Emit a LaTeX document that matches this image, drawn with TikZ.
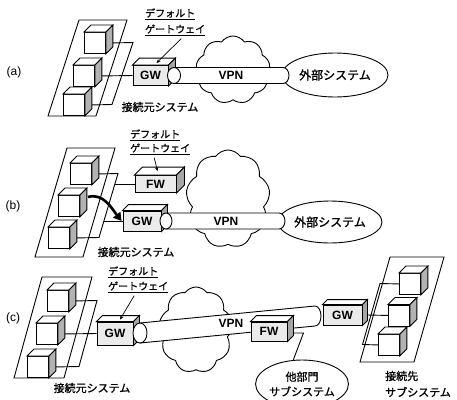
\documentclass[tikz,border=0pt]{standalone}
\usepackage{fontspec}
\setmainfont{Liberation Sans}
\newfontfamily\jp[FakeBold=1.2]{Noto Sans CJK JP}
\usetikzlibrary{shapes.geometric,shapes.symbols,arrows.meta}

\tikzset{
  plate/.style={draw, line width=0.9pt},
  wire/.style={draw, line width=0.9pt},
  cubefront/.style={draw, fill=white, minimum width=21, minimum height=21, inner sep=0, line width=0.9pt},
  cubetop/.style={draw, fill=white, line width=0.9pt},
  cubeside/.style={draw, fill=black!30, line width=0.9pt},
  gwbox/.style={draw, fill=black!8, inner sep=0, line width=0.9pt, font=\bfseries\fontsize{12}{12}\selectfont},
  boxside/.style={draw, fill=black!35, line width=0.9pt},
  pipe/.style={draw, fill=white, line width=0.9pt},
  net/.style={cloud, draw, fill=white, cloud puffs=9, cloud puff arc=110, cloud ignores aspect, inner sep=0, line width=0.9pt},
  site/.style={ellipse, draw, fill=white, inner sep=0, line width=0.9pt, font=\jp\fontsize{12}{14}\selectfont},
  jplabel/.style={inner sep=0, font=\jp\fontsize{11}{13}\selectfont},
  gwlabel/.style={inner sep=0, anchor=west, font=\jp\fontsize{10}{12}\selectfont},
  vpntext/.style={inner sep=0, font=\bfseries\fontsize{12}{12}\selectfont},
  tag/.style={inner sep=0, font=\fontsize{12}{12}\selectfont},
  ptr/.style={line width=0.7pt, -{Stealth[length=4pt,width=3.5pt]}},
  swap/.style={line width=2.6pt, -{Triangle[length=8pt,width=9pt]}}
}

% cube: front face is a node, top and side faces drawn from its anchors
\newcommand{\cubeAt}[3]{%
  \node[cubefront, anchor=north west] (#1) at (#2,#3) {};
  \draw[cubetop] (#1.north west) -- ++(7,-7) -- ([shift={(7,-7)}]#1.north east) -- (#1.north east) -- cycle;
  \draw[cubeside] (#1.north east) -- ++(7,-7) -- ([shift={(7,-7)}]#1.south east) -- (#1.south east) -- cycle;
}
% top and side faces of a gateway / firewall box
\newcommand{\prism}[2]{%
  \draw[cubetop] (#1.north west) -- ++(#2,-#2) -- ([shift={(#2,-#2)}]#1.north east) -- (#1.north east) -- cycle;
  \draw[boxside] (#1.north east) -- ++(#2,-#2) -- ([shift={(#2,-#2)}]#1.south east) -- (#1.south east) -- cycle;
}

\begin{document}
\begin{tikzpicture}[x=1pt, y=-1pt]
\useasboundingbox (0,0) rectangle (457,399);
\clip (0,0) rectangle (457,399);

% ---------------- (a) ----------------
\node[tag] (taga) at (14,72) {(a)};
\draw[plate] (79,20) -- (127,20) -- (96,116) -- (48,116) -- cycle;
\cubeAt{a1}{84}{32}
\cubeAt{a2}{73}{65}
\cubeAt{a3}{63}{94}
\draw[wire] ([xshift=7]a1.east) -- (133,42.5) -- (112,104.5) -- ([xshift=7]a3.east);

\node[net, minimum width=74, minimum height=68] (cla) at (233,70) {};
\node[site, minimum width=106, minimum height=44] (exa) at (335,75) {外部システム};
\draw[pipe] (174,67.5) -- (283,67.5) arc[start angle=-90, end angle=90, x radius=6, y radius=8] -- (174,83.5) -- cycle;
\node[vpntext] (vpna) at (231,75.5) {VPN};
\node[gwbox, minimum width=35, minimum height=20] (gwa) at (150.5,75.5) {GW};
\prism{gwa}{7}
\draw[pipe] (174,75.5) ellipse[x radius=6.5, y radius=8];
\draw[wire] ([xshift=7]a2.east) -- (gwa.west);

\node[gwlabel] (dfa) at (145,14) {\underline{デフォルト}};
\node[gwlabel] (gta) at (145,30) {\underline{ゲートウェイ}};
\draw[ptr] ([shift={(6,3)}]gta.south) -- ([shift={(6,-2)}]gwa.north);
\node[jplabel] (sra) at (160,107) {接続元システム};

% ---------------- (b) ----------------
\node[tag] (tagb) at (13,206) {(b)};
\draw[plate] (67,148) -- (115,148) -- (83,257) -- (35,257) -- cycle;
\cubeAt{b1}{70}{163}
\cubeAt{b2}{58}{195}
\cubeAt{b3}{48}{227}
\draw[wire] ([xshift=7]b1.east) -- (118,173.5) -- (99,237.5) -- ([xshift=7]b3.east);

\node[net, minimum width=84, minimum height=98] (clb) at (228,199) {};
\node[site, minimum width=104, minimum height=42] (exb) at (330,222) {外部システム};
\draw[pipe] (166,213) -- (279,213) arc[start angle=-90, end angle=90, x radius=6, y radius=8] -- (166,229) -- cycle;
\node[vpntext] (vpnb) at (226,221) {VPN};

\node[gwbox, minimum width=41, minimum height=17] (fwb) at (155.5,184) {FW};
\prism{fwb}{8}
\node[gwbox, minimum width=38, minimum height=20] (gwb) at (142,221) {GW};
\prism{gwb}{6}
\draw[pipe] (166,221) ellipse[x radius=6, y radius=8];
\coordinate (busfw) at (114.7,184);
\coordinate (busgw) at (104,221);
\draw[wire] (busfw) -- (fwb.west);
\draw[wire] (busgw) -- (gwb.west);
\draw[swap] ([shift={(8,-9)}]b2.east) to[out=15, in=128] ([xshift=-1]gwb.west);

\node[gwlabel] (dfb) at (130,135) {\underline{デフォルト}};
\node[gwlabel] (gtb) at (130,149) {\underline{ゲートウェイ}};
\draw[ptr] ([shift={(-6,3)}]gtb.south) -- ([shift={(2,-4)}]fwb.north);
\node[jplabel] (srb) at (136,252) {接続元システム};

% ---------------- (c) ----------------
\node[tag] (tagc) at (13,318) {(c)};
\draw[plate] (42,277) -- (92,277) -- (64,378) -- (14,378) -- cycle;
\cubeAt{c1}{47}{290}
\cubeAt{c2}{36}{323}
\cubeAt{c3}{27}{356}
\draw[wire] ([xshift=7]c1.east) -- (97,300.5) -- (79,366.5) -- ([xshift=7]c3.east);

\node[net, minimum width=74, minimum height=86] (clc) at (196,330) {};
\draw[pipe] (140,323) -- (315,306) arc[start angle=-90, end angle=90, x radius=6, y radius=10] -- (140,343) -- cycle;
\node[vpntext] (vpnc) at (231,323) {VPN};
\node[gwbox, minimum width=36, minimum height=23] (gwc) at (115,333.5) {GW};
\prism{gwc}{6}
\draw[pipe] (140,333) ellipse[x radius=7, y radius=10];
\draw[wire] ([xshift=7]c2.east) -- (gwc.west);

\node[gwbox, minimum width=36, minimum height=19] (fwc) at (269,331.5) {FW};
\prism{fwc}{6}
\node[site, minimum width=72, minimum height=48, align=center, font=\jp\fontsize{11}{15}\selectfont] (oth) at (302,384) {他部門\\サブシステム};
\draw[wire] ([shift={(6,1.5)}]fwc.east) -- ++(10,0) -- (oth.110);

\node[gwbox, minimum width=39, minimum height=20] (gwd) at (342.5,315) {GW};
\prism{gwd}{5}

\draw[plate] (390,257) -- (444,257) -- (414,362) -- (360,362) -- cycle;
\cubeAt{d1}{399}{273}
\cubeAt{d2}{388}{304.5}
\cubeAt{d3}{378}{334}
\draw[wire] (d1.west) -- (380,283.5) -- (362.5,344.5) -- (d3.west);
\draw[wire] ([xshift=5]gwd.east) -- (d2.west);

\node[gwlabel] (dfc) at (108,272) {\underline{デフォルト}};
\node[gwlabel] (gtc) at (108,287) {\underline{ゲートウェイ}};
\draw[ptr] ([shift={(-4,3)}]gtc.south) -- ([shift={(5,-2)}]gwc.north);
\node[jplabel] (src) at (92,388) {接続元システム};
\node[jplabel, anchor=west] (dst1) at (385,376) {接続先};
\node[jplabel, anchor=west] (dst2) at (385,392) {サブシステム};
\end{tikzpicture}
\end{document}
